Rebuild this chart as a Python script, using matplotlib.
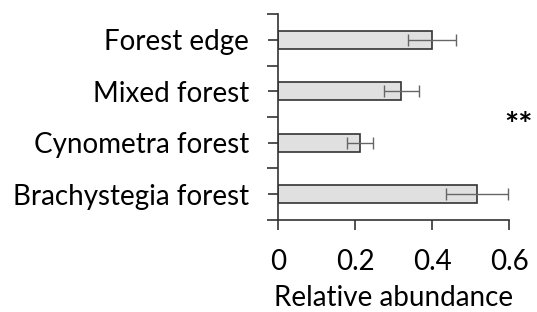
import matplotlib
matplotlib.use("Agg")
import matplotlib.pyplot as plt
import numpy as np

categories = ["Forest edge", "Mixed forest", "Cynometra forest", "Brachystegia forest"]
values = [0.40, 0.32, 0.213, 0.517]
errors = [0.062, 0.045, 0.033, 0.08]
xticks = [0, 0.2, 0.4, 0.6]
xticklabels = ["0", "0.2", "0.4", "0.6"]

plt.rcParams['font.family'] = ['Lato', 'DejaVu Sans']

fig = plt.figure(figsize=(5.37, 3.12), dpi=100)
ax = fig.add_axes([0.518, 0.295, 0.430, 0.660])

y = np.arange(len(categories))
ax.barh(y, values, height=0.35, color="#e0e0e0", edgecolor="#333333", linewidth=1.2,
        xerr=errors, error_kw=dict(ecolor="#666666", elinewidth=1.0, capsize=4, capthick=1.0))
ax.set_ylim(len(categories) - 0.5, -0.5)
ax.set_xlim(0, 0.6)

ax.set_yticks(y)
ax.set_yticklabels(categories, fontsize=20)
ax.set_yticks(np.arange(-0.5, len(categories), 1), minor=True)
ax.tick_params(axis='y', which='both', direction='out', length=7, width=1.2, color="#333333", pad=14)
ax.tick_params(axis='y', which='minor', length=8)

ax.set_xticks(xticks)
ax.set_xticklabels(xticklabels, fontsize=20)
ax.tick_params(axis='x', direction='out', length=7, width=1.2, color="#333333", pad=14)
ax.set_xlabel("Relative abundance", fontsize=20, labelpad=7)

for s in ["top", "right"]:
    ax.spines[s].set_visible(False)
for s in ["left", "bottom"]:
    ax.spines[s].set_color("#333333")
    ax.spines[s].set_linewidth(1.2)

fig.text(0.965, 0.595, "**", fontsize=24, fontweight="bold", ha="center", va="center")

fig.savefig("out.png", dpi=100, facecolor="white")
